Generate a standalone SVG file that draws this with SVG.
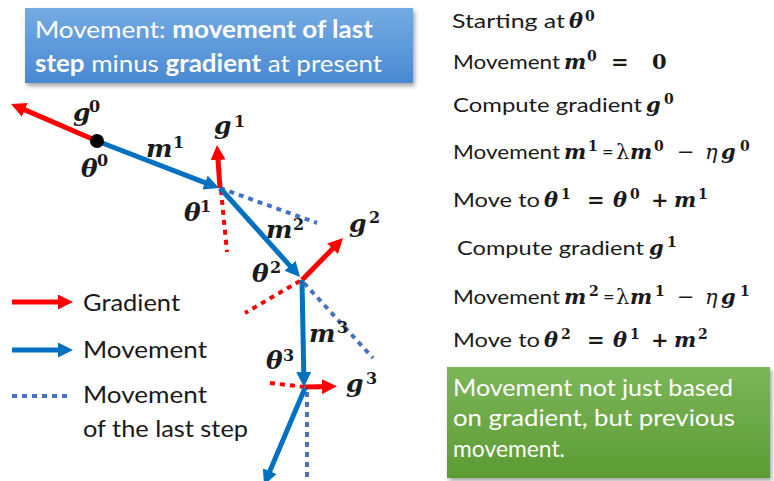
<svg xmlns="http://www.w3.org/2000/svg" width="774" height="481" viewBox="0 0 774 481">
<style>
.t{font-family:Lato,"Open Sans","Liberation Sans",sans-serif;fill:#1a1a1a}
.w{font-family:Lato,"Open Sans","Liberation Sans",sans-serif;fill:#ffffff;font-size:24px}
.b{font-weight:bold}
.mi{font-family:"DejaVu Serif","Liberation Serif",serif;font-weight:bold;font-style:italic;fill:#1a1a1a}
.mu{font-family:"DejaVu Serif","Liberation Serif",serif;font-weight:bold;fill:#1a1a1a}
.mn{font-family:"DejaVu Serif","Liberation Serif",serif;fill:#1a1a1a}
.L{font-size:25px}.Ls{font-size:16px}
.R{font-size:21px}.Rs{font-size:14px}
.red{stroke:#ff0000;stroke-width:5;fill:none}
.blue{stroke:#0070c0;stroke-width:5;fill:none}
.rd{stroke:#ff0000;stroke-width:4;stroke-dasharray:5 5;fill:none}
.bd{stroke:#4472c4;stroke-width:4;stroke-dasharray:5 5;fill:none}
</style>
<defs>
<linearGradient id="gBlue" x1="0" y1="0" x2="0" y2="1"><stop offset="0" stop-color="#74abe2"/><stop offset="1" stop-color="#4a89d2"/></linearGradient>
<linearGradient id="gGreen" x1="0" y1="0" x2="0" y2="1"><stop offset="0" stop-color="#7cb65a"/><stop offset="1" stop-color="#5c9b32"/></linearGradient>
<filter id="sh" x="-5%" y="-5%" width="115%" height="120%"><feDropShadow dx="2" dy="3" stdDeviation="2" flood-color="#000" flood-opacity="0.35"/></filter>
<marker id="ahR" viewBox="0 0 3 3" refX="1.5" refY="1.5" markerWidth="3" markerHeight="3" orient="auto" markerUnits="strokeWidth"><path d="M0,0 L3,1.5 L0,3 z" fill="#ff0000"/></marker>
<marker id="ahB" viewBox="0 0 3 3" refX="1.5" refY="1.5" markerWidth="3" markerHeight="3" orient="auto" markerUnits="strokeWidth"><path d="M0,0 L3,1.5 L0,3 z" fill="#0070c0"/></marker>
</defs>

<g id="title-box">
<rect x="25" y="8" width="388" height="75" fill="url(#gBlue)" filter="url(#sh)"/>
<text class="w" x="35" y="38" textLength="338" lengthAdjust="spacingAndGlyphs">Movement: <tspan class="b">movement of last</tspan></text>
<text class="w" x="35" y="72" textLength="347" lengthAdjust="spacingAndGlyphs"><tspan class="b">step</tspan> minus <tspan class="b">gradient</tspan> at present</text>
</g>

<g id="connectors">
<path class="rd" d="M221,190 L227,252"/>
<path class="bd" d="M220,188 L317,223"/>
<path class="rd" d="M300,281 L245,313"/>
<path class="bd" d="M304,283 L373,358"/>
<path class="rd" d="M270,383 L305,387"/>
<path class="bd" d="M307,392 L307,481"/>
<path class="red" d="M97,141 L17.9,106.9" marker-end="url(#ahR)"/>
<path class="blue" d="M97,141 L212,185.3" marker-end="url(#ahB)"/>
<path class="red" d="M220,188 L217.5,152.5" marker-end="url(#ahR)"/>
<path class="blue" d="M220,188 L295,271.4" marker-end="url(#ahB)"/>
<path class="red" d="M302,280 L337.8,243.4" marker-end="url(#ahR)"/>
<path class="blue" d="M302,280 L303.9,379.5" marker-end="url(#ahB)"/>
<path class="red" d="M305,387 L329.5,386.5" marker-end="url(#ahR)"/>
<path class="blue" d="M305,388 L266.9,478.1" marker-end="url(#ahB)"/>
</g>

<g id="theta0"><circle cx="97" cy="141" r="7" fill="#000"/></g>

<g id="labels">
<text class="mi L" x="73" y="121">g</text><text class="mu Ls" x="89" y="112">0</text>
<text class="mi L" x="81" y="177">θ</text><text class="mu Ls" x="97" y="166">0</text>
<text class="mi L" x="146" y="157">m</text><text class="mu Ls" x="173" y="148">1</text>
<text class="mi L" x="214" y="134">g</text><text class="mu Ls" x="234" y="127">1</text>
<text class="mi L" x="184" y="221">θ</text><text class="mu Ls" x="200" y="212">1</text>
<text class="mi L" x="266" y="238">m</text><text class="mu Ls" x="293" y="230">2</text>
<text class="mi L" x="349" y="232">g</text><text class="mu Ls" x="369" y="223">2</text>
<text class="mi L" x="252" y="282">θ</text><text class="mu Ls" x="270" y="273">2</text>
<text class="mi L" x="309" y="342">m</text><text class="mu Ls" x="337" y="333">3</text>
<text class="mi L" x="266" y="369">θ</text><text class="mu Ls" x="283" y="361">3</text>
<text class="mi L" x="346" y="392">g</text><text class="mu Ls" x="366" y="384">3</text>
</g>

<g id="legend">
<path class="red" d="M12,302 L65.5,302" marker-end="url(#ahR)"/>
<path class="blue" d="M12,350 L65.5,350" marker-end="url(#ahB)"/>
<path class="bd" d="M12,396 L70,396"/>
<text class="t" style="font-size:24px" x="83" y="311" textLength="97" lengthAdjust="spacingAndGlyphs">Gradient</text>
<text class="t" style="font-size:24px" x="83" y="358" textLength="124" lengthAdjust="spacingAndGlyphs">Movement</text>
<text class="t" style="font-size:24px" x="83" y="403" textLength="124" lengthAdjust="spacingAndGlyphs">Movement</text>
<text class="t" style="font-size:24px" x="83" y="437" textLength="165" lengthAdjust="spacingAndGlyphs">of the last step</text>
</g>

<g id="steps">
<text class="t" style="font-size:20px" x="452" y="28" textLength="113" lengthAdjust="spacingAndGlyphs">Starting at</text>
<text class="mi R" x="569" y="28">θ</text><text class="mu Rs" x="585" y="21">0</text>

<text class="t" style="font-size:20px" x="453" y="69" textLength="107" lengthAdjust="spacingAndGlyphs">Movement</text>
<text class="mi R" x="564" y="69">m</text><text class="mu Rs" x="587" y="61">0</text>
<text class="mu R" x="611" y="69">=</text><text class="mu R" x="652" y="69">0</text>

<text class="t" style="font-size:20px" x="453" y="112" textLength="189" lengthAdjust="spacingAndGlyphs">Compute gradient</text>
<text class="mi R" x="646" y="112">g</text><text class="mu Rs" x="664" y="104">0</text>

<text class="t" style="font-size:20px" x="453" y="159" textLength="107" lengthAdjust="spacingAndGlyphs">Movement</text>
<text class="mi R" x="564" y="159">m</text><text class="mu Rs" x="588" y="151">1</text>
<text class="t" style="font-size:20px" x="602" y="159">=</text>
<text class="mn R" x="616" y="159">λ</text>
<text class="mi R" x="630" y="159">m</text><text class="mu Rs" x="654" y="151">0</text>
<text class="mn R" x="677" y="159">−</text>
<text class="mn R" x="705" y="159" font-style="italic">η</text>
<text class="mi R" x="721" y="159">g</text><text class="mu Rs" x="740" y="151">0</text>

<text class="t" style="font-size:20px" x="453" y="207" textLength="87" lengthAdjust="spacingAndGlyphs">Move to</text>
<text class="mi R" x="544" y="207">θ</text><text class="mu Rs" x="561" y="199">1</text>
<text class="mu R" x="587" y="207">=</text>
<text class="mi R" x="613" y="207">θ</text><text class="mu Rs" x="630" y="199">0</text>
<text class="mu R" x="651" y="207">+</text>
<text class="mi R" x="674" y="207">m</text><text class="mu Rs" x="698" y="199">1</text>

<text class="t" style="font-size:20px" x="457" y="255" textLength="187" lengthAdjust="spacingAndGlyphs">Compute gradient</text>
<text class="mi R" x="649" y="255">g</text><text class="mu Rs" x="667" y="247">1</text>

<text class="t" style="font-size:20px" x="453" y="304" textLength="107" lengthAdjust="spacingAndGlyphs">Movement</text>
<text class="mi R" x="564" y="304">m</text><text class="mu Rs" x="589" y="296">2</text>
<text class="t" style="font-size:20px" x="603" y="304">=</text>
<text class="mn R" x="616" y="304">λ</text>
<text class="mi R" x="630" y="304">m</text><text class="mu Rs" x="655" y="296">1</text>
<text class="mn R" x="677" y="304">−</text>
<text class="mn R" x="705" y="304" font-style="italic">η</text>
<text class="mi R" x="721" y="304">g</text><text class="mu Rs" x="740" y="296">1</text>

<text class="t" style="font-size:20px" x="453" y="347" textLength="87" lengthAdjust="spacingAndGlyphs">Move to</text>
<text class="mi R" x="544" y="347">θ</text><text class="mu Rs" x="561" y="339">2</text>
<text class="mu R" x="587" y="347">=</text>
<text class="mi R" x="613" y="347">θ</text><text class="mu Rs" x="630" y="339">1</text>
<text class="mu R" x="651" y="347">+</text>
<text class="mi R" x="674" y="347">m</text><text class="mu Rs" x="698" y="339">2</text>
</g>

<g id="note-box">
<rect x="447" y="367" width="323" height="111" fill="url(#gGreen)" filter="url(#sh)"/>
<text class="w" x="453" y="396" textLength="280" lengthAdjust="spacingAndGlyphs">Movement not just based</text>
<text class="w" x="453" y="426" textLength="282" lengthAdjust="spacingAndGlyphs">on gradient, but previous</text>
<text class="w" x="453" y="457" textLength="112" lengthAdjust="spacingAndGlyphs">movement.</text>
</g>
</svg>
